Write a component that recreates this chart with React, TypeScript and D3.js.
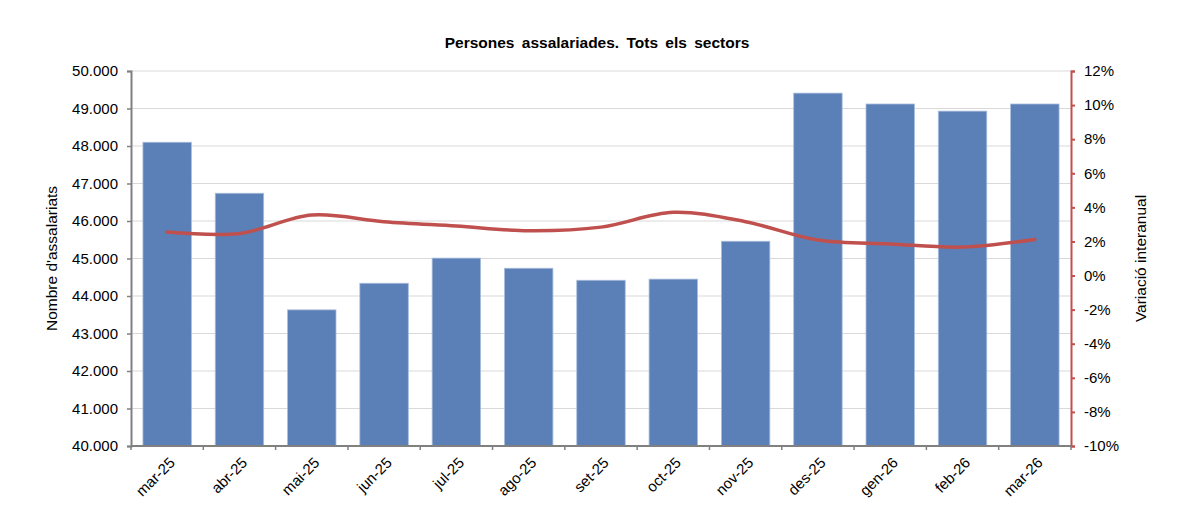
import React, { useEffect, useRef } from "react";
import * as d3 from "d3";

// categories and series
const months = [
  "mar-25", "abr-25", "mai-25", "jun-25", "jul-25", "ago-25", "set-25",
  "oct-25", "nov-25", "des-25", "gen-26", "feb-26", "mar-26",
];
const employees = [
  48100, 46740, 43630, 44340, 45010, 44740, 44420,
  44450, 45460, 49410, 49120, 48930, 49120,
];
const yearChange = [
  2.55, 2.47, 3.55, 3.16, 2.9, 2.63, 2.84,
  3.71, 3.16, 2.08, 1.85, 1.67, 2.12,
];
const leftTicks = [40000, 41000, 42000, 43000, 44000, 45000, 46000, 47000, 48000, 49000, 50000];
const rightTicks = [-10, -8, -6, -4, -2, 0, 2, 4, 6, 8, 10, 12];

const W = 1192;
const H = 520;
const margin = { top: 71, right: 121, bottom: 74, left: 131 };
const font = "'Liberation Sans', Arial, sans-serif";
const barColor = "#5b7fb7";
const lineColor = "#c0504d";

const App = () => {
  const ref = useRef<SVGSVGElement | null>(null);

  useEffect(() => {
    const svg = d3.select(ref.current);
    svg.selectAll("*").remove();

    const x0 = margin.left;
    const x1 = W - margin.right;
    const y0 = H - margin.bottom;
    const y1 = margin.top;

    const x = d3.scaleBand<string>().domain(months).range([x0, x1]).paddingInner(0.33).paddingOuter(0.165);
    const band = d3.scaleBand<string>().domain(months).range([x0, x1]);
    const yL = d3.scaleLinear().domain([40000, 50000]).range([y0, y1]);
    const yR = d3.scaleLinear().domain([-10, 12]).range([y0, y1]);

    const fmt = (v: number) => d3.format(",")(v).replace(/,/g, ".");

    // grid
    svg.append("g")
      .selectAll("line")
      .data(leftTicks.slice(1))
      .join("line")
      .attr("x1", x0).attr("x2", x1)
      .attr("y1", (d) => yL(d)).attr("y2", (d) => yL(d))
      .attr("stroke", "#d9d9d9").attr("stroke-width", 1);

    // bars
    svg.append("g")
      .selectAll("rect")
      .data(months)
      .join("rect")
      .attr("x", (d) => x(d)!)
      .attr("width", x.bandwidth())
      .attr("y", (_, i) => yL(employees[i]))
      .attr("height", (_, i) => y0 - yL(employees[i]))
      .attr("fill", barColor)
      .attr("stroke", "#a9bddc")
      .attr("stroke-width", 0.8);

    // left axis
    const gL = svg.append("g").attr("transform", `translate(${x0},0)`)
      .call(d3.axisLeft(yL).tickValues(leftTicks).tickFormat((d) => fmt(d as number)).tickSize(4).tickPadding(9));
    gL.select(".domain").attr("stroke", "#808080").attr("stroke-width", 2);
    gL.selectAll(".tick line").attr("stroke", "#808080").attr("stroke-width", 1.5);
    gL.selectAll("text").attr("font-family", font).attr("font-size", 15).attr("fill", "#000");

    // right axis
    const gR = svg.append("g").attr("transform", `translate(${x1},0)`)
      .call(d3.axisRight(yR).tickValues(rightTicks).tickFormat((d) => `${d}%`).tickSize(4).tickPadding(9));
    gR.select(".domain").attr("stroke", lineColor).attr("stroke-width", 2);
    gR.selectAll(".tick line").attr("stroke", lineColor).attr("stroke-width", 2);
    gR.selectAll("text").attr("font-family", font).attr("font-size", 15).attr("fill", "#000");

    // bottom axis
    const gB = svg.append("g").attr("transform", `translate(0,${y0})`);
    gB.append("line").attr("x1", x0).attr("x2", x1).attr("y1", 0).attr("y2", 0)
      .attr("stroke", "#808080").attr("stroke-width", 2);
    gB.selectAll("line.tk")
      .data([...months.map((m) => band(m)!), x1])
      .join("line")
      .attr("class", "tk")
      .attr("x1", (d) => d).attr("x2", (d) => d)
      .attr("y1", 0).attr("y2", 4)
      .attr("stroke", "#808080").attr("stroke-width", 1.5);
    gB.selectAll("text")
      .data(months)
      .join("text")
      .attr("transform", (d) => `translate(${band(d)! + band.bandwidth() / 2 + 5},${14}) rotate(-45)`)
      .attr("text-anchor", "end")
      .attr("dy", "0.35em")
      .attr("font-family", font).attr("font-size", 15)
      .text((d) => d);

    // line
    const line = d3.line<number>()
      .x((_, i) => band(months[i])! + band.bandwidth() / 2)
      .y((d) => yR(d))
      .curve(d3.curveCatmullRom.alpha(0.5));
    svg.append("path")
      .datum(yearChange)
      .attr("d", line)
      .attr("fill", "none")
      .attr("stroke", lineColor)
      .attr("stroke-width", 3.5)
      .attr("stroke-linecap", "round");

    // title and axis labels
    svg.append("text")
      .attr("x", 597).attr("y", 48)
      .attr("text-anchor", "middle")
      .attr("font-family", font).attr("font-size", 15.5).attr("font-weight", "bold")
      .attr("word-spacing", 3)
      .text("Persones assalariades. Tots els sectors");
    svg.append("text")
      .attr("transform", `translate(57,${(y0 + y1) / 2}) rotate(-90)`)
      .attr("text-anchor", "middle")
      .attr("font-family", font).attr("font-size", 15.5)
      .text("Nombre d'assalariats");
    svg.append("text")
      .attr("transform", `translate(1146,${(y0 + y1) / 2}) rotate(-90)`)
      .attr("text-anchor", "middle")
      .attr("font-family", font).attr("font-size", 15.5)
      .text("Variació interanual");
  });

  return (
    <div style={{ margin: -8 }}>
      <svg ref={ref} width={W} height={H} style={{ display: "block", background: "#fff" }}></svg>
    </div>
  );
};

export default App;
